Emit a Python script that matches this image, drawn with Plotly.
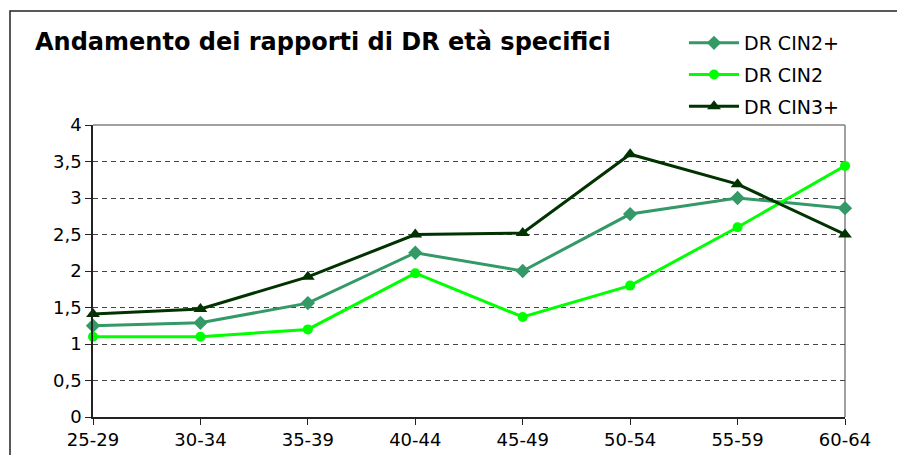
import plotly.graph_objects as go

categories = ["25-29", "30-34", "35-39", "40-44", "45-49", "50-54", "55-59", "60-64"]
cin2plus = [1.25, 1.29, 1.56, 2.25, 2.0, 2.78, 3.0, 2.86]
cin2 = [1.1, 1.1, 1.2, 1.97, 1.37, 1.8, 2.6, 3.44]
cin3plus = [1.41, 1.48, 1.92, 2.5, 2.52, 3.6, 3.19, 2.5]
y_ticks = [0, 0.5, 1, 1.5, 2, 2.5, 3, 3.5, 4]

W, H = 897, 455
L, R, T, B = 93, 52, 125, 38
pw, ph = W - L - R, H - T - B

def px_x(px):
    return (px - L) / pw

def px_y(py):
    return (H - B - py) / ph

fig = go.Figure()
series = [
    ("DR CIN2+", cin2plus, "#339966", "diamond", 11),
    ("DR CIN2", cin2, "#00FF00", "circle", 10),
    ("DR CIN3+", cin3plus, "#003300", "triangle-up", 12),
]
for name, vals, col, sym, sz in series:
    fig.add_trace(go.Scatter(
        x=categories, y=vals, name=name, mode="lines+markers",
        line=dict(color=col, width=3),
        marker=dict(symbol=sym, size=sz, color=col),
        cliponaxis=False, legendgroup=name,
    ))

fig.update_layout(
    width=W, height=H,
    margin=dict(l=L, r=R, t=T, b=B, autoexpand=False),
    paper_bgcolor="white", plot_bgcolor="white",
    separators=", ",
    font=dict(family="DejaVu Sans", size=18, color="black"),
    title=dict(
        text="<b>Andamento dei rapporti di DR età specifici</b>",
        x=35 / W, xanchor="left", y=1 - 42 / H, yanchor="middle",
        font=dict(family="DejaVu Sans", size=24, color="black"),
    ),
    showlegend=True,
    legend=dict(
        xref="container", yref="container",
        x=684 / W, xanchor="left", y=1 - 24 / H, yanchor="top",
        font=dict(family="DejaVu Sans", size=19, color="black"),
        tracegroupgap=4, itemwidth=50, bgcolor="rgba(0,0,0,0)",
    ),
    xaxis=dict(
        type="category", range=[0, len(categories) - 1],
        showline=True, linecolor="#222", linewidth=1.5,
        ticks="outside", ticklen=6, tickcolor="#222",
        showgrid=False, zeroline=False, automargin=False,
        tickfont=dict(size=18),
    ),
    yaxis=dict(
        range=[0, 4], tickvals=y_ticks,
        showline=True, linecolor="#222", linewidth=1.5,
        ticks="outside", ticklen=6, tickcolor="#222",
        showgrid=True, gridcolor="#444", griddash="5px,4px", gridwidth=1,
        zeroline=False, automargin=False, tickfont=dict(size=18),
    ),
    shapes=[
        dict(type="line", xref="paper", yref="paper", x0=0, x1=1, y0=1, y1=1,
             line=dict(color="#808080", width=1.5), layer="above"),
        dict(type="line", xref="paper", yref="paper", x0=1, x1=1, y0=0, y1=1,
             line=dict(color="#808080", width=1.5), layer="below"),
        dict(type="rect", xref="paper", yref="paper",
             x0=px_x(10), x1=px_x(905), y0=px_y(11), y1=px_y(470),
             line=dict(color="#222", width=1.5), fillcolor="rgba(0,0,0,0)"),
    ],
)

fig.write_html(
    "out.html",
    config={"displayModeBar": False},
    post_script="document.body.style.margin='0';document.body.style.overflow='hidden';",
)
